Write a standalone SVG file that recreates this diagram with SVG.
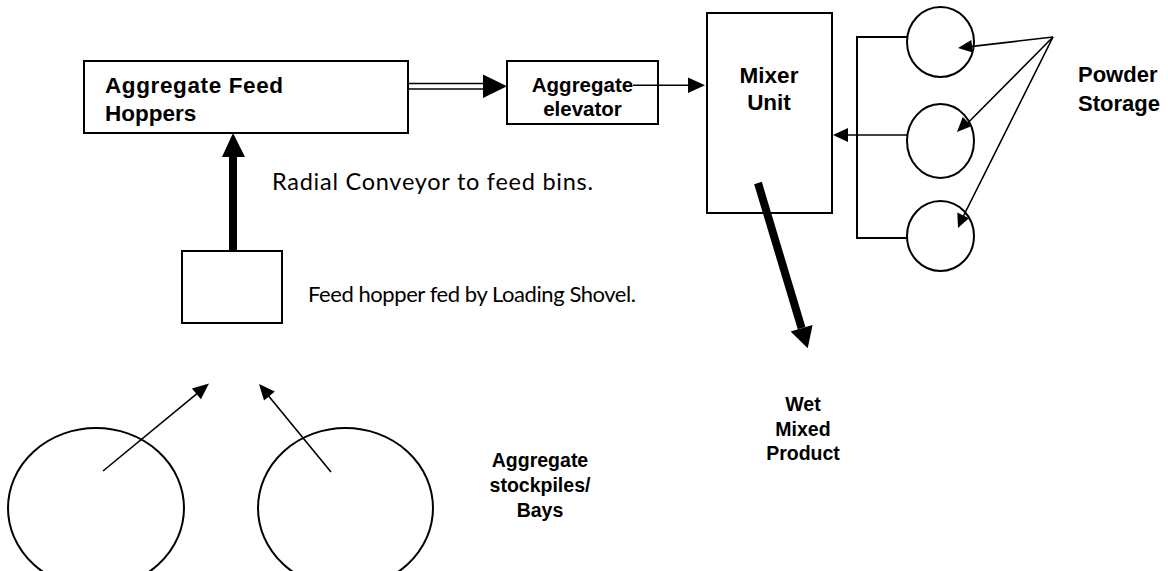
<svg xmlns="http://www.w3.org/2000/svg" width="1168" height="571" viewBox="0 0 1168 571">
<style>
.box{fill:#fff;stroke:#000;stroke-width:2}
.shape{fill:none;stroke:#000;stroke-width:2}
.ln{fill:none;stroke:#000;stroke-width:1.6}
.thick{fill:none;stroke:#000;stroke-width:8}
.head{fill:#000;stroke:none}
.b{font-family:"Liberation Sans",Arial,sans-serif;font-weight:bold;fill:#000}
.n{font-family:Lato,"Open Sans",sans-serif;fill:#000}
</style>
<rect width="1168" height="571" fill="#fff"/>
<g id="afh">
<rect class="box" x="84" y="61" width="324" height="72"/>
<text class="b" x="105" y="93" font-size="22.5" textLength="178">Aggregate Feed</text>
<text class="b" x="105" y="121" font-size="22.5">Hoppers</text>
</g>
<g id="elevator">
<rect class="box" x="507" y="61" width="151" height="63"/>
<text class="b" x="582.5" y="92" font-size="20.5" text-anchor="middle">Aggregate</text>
<text class="b" x="582.5" y="116" font-size="20.5" text-anchor="middle">elevator</text>
</g>
<g id="mixer">
<rect class="box" x="707" y="13" width="125" height="200"/>
<text class="b" x="769" y="83" font-size="22.5" text-anchor="middle">Mixer</text>
<text class="b" x="769" y="110" font-size="22.5" text-anchor="middle">Unit</text>
</g>
<g id="powder">
<path class="shape" d="M907,37 H857 V238 H907"/>
<ellipse class="shape" cx="940.5" cy="42" rx="33.5" ry="35"/>
<ellipse class="shape" cx="940.5" cy="141" rx="33.5" ry="37"/>
<ellipse class="shape" cx="940.5" cy="236" rx="33.5" ry="35"/>
<text class="b" x="1078" y="82" font-size="22">Powder</text>
<text class="b" x="1078" y="111" font-size="22">Storage</text>
</g>
<g id="feedhopper">
<rect class="box" x="182" y="251" width="100" height="72"/>
<text class="n" x="308" y="302" font-size="22" textLength="328">Feed hopper fed by Loading Shovel.</text>
</g>
<g id="stockpiles">
<ellipse class="shape" cx="96" cy="508" rx="88" ry="80"/>
<ellipse class="shape" cx="345.5" cy="508" rx="87.5" ry="80"/>
<text class="b" x="540" y="467" font-size="19.5" text-anchor="middle">Aggregate</text>
<text class="b" x="540" y="492" font-size="19.5" text-anchor="middle">stockpiles/</text>
<text class="b" x="540" y="517" font-size="19.5" text-anchor="middle">Bays</text>
</g>
<g id="product">
<text class="b" x="803" y="411" font-size="19.5" text-anchor="middle">Wet</text>
<text class="b" x="803" y="436" font-size="19.5" text-anchor="middle">Mixed</text>
<text class="b" x="803" y="460" font-size="19.5" text-anchor="middle">Product</text>
</g>
<g id="labels">
<text class="n" x="272" y="190" font-size="23.5" textLength="321">Radial Conveyor to feed bins.</text>
</g>
<g id="connectors">
<line class="ln" x1="408" y1="83.5" x2="485" y2="83.5" stroke-width="2"/>
<line class="ln" x1="408" y1="89" x2="485" y2="89" stroke-width="2"/>
<polygon class="head" points="483,74.5 507,86.3 483,98"/>
<line class="ln" x1="633" y1="85.3" x2="690" y2="85.3"/>
<polygon class="head" points="688,77.5 705,85.3 688,93"/>
<line class="ln" x1="907" y1="135" x2="846" y2="135"/>
<polygon class="head" points="848,128 833,135 848,142"/>
<line class="ln" x1="1053" y1="37" x2="968" y2="46.9"/>
<polygon class="head" points="958,48 971.3,40.1 972.7,52.5"/>
<line class="ln" x1="1053" y1="37" x2="966" y2="124.8"/>
<polygon class="head" points="957,132 962.7,117.1 971.8,126.1"/>
<line class="ln" x1="1053" y1="37" x2="962" y2="219"/>
<polygon class="head" points="958,228 957.3,212.5 968.8,218.2"/>
<line class="thick" x1="233" y1="251" x2="233" y2="155"/>
<polygon class="head" points="222,157 245,157 233,133"/>
<line class="thick" x1="758" y1="183" x2="801.6" y2="328.2"/>
<polygon class="head" points="807.7,348.3 812.6,324.9 790.6,331.5"/>
<line class="ln" x1="103" y1="471" x2="198.5" y2="392.3"/>
<polygon class="head" points="209,383.5 200.9,399.2 191.9,388.4"/>
<line class="ln" x1="331" y1="472" x2="267.6" y2="394.8"/>
<polygon class="head" points="259,384 274.8,391.5 264,400.4"/>
</g>
</svg>
